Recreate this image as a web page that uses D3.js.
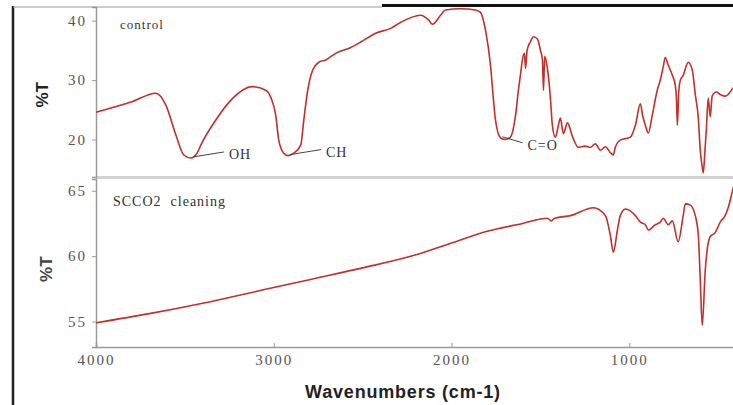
<!DOCTYPE html>
<html>
<head>
<meta charset="utf-8">
<script src="https://cdn.jsdelivr.net/npm/d3@7"></script>
<style>
  body { margin: 0; background: #fff; }
  svg { display: block; }
</style>
</head>
<body>
<main></main>
<script>
// control spectrum (wavenumber, %T)
const controlWn = [4000, 3803, 3663, 3607, 3551, 3506, 3466, 3430, 3410, 3326, 3242, 3120, 3045, 3017,
  2989, 2972, 2944, 2920, 2888, 2848, 2831, 2809, 2781, 2747, 2708, 2652, 2567, 2511, 2427, 2343,
  2287, 2174, 2129, 2107, 2062, 2034, 1949, 1865, 1837, 1809, 1781, 1764, 1753, 1725, 1697, 1669,
  1640, 1624, 1612, 1601, 1590, 1584, 1575, 1556, 1539, 1517, 1500, 1489, 1483, 1476, 1461, 1444,
  1433, 1416, 1399, 1388, 1371, 1348, 1320, 1287, 1250, 1219, 1191, 1163, 1135, 1107, 1090, 1079,
  1051, 994, 966, 938, 925, 910, 893, 871, 843, 826, 809, 798, 781, 758, 742, 735, 730, 722, 713,
  697, 669, 646, 629, 612, 601, 590, 584, 575, 567, 556, 545, 534, 511, 489, 461, 433, 416, 400];
const controlT = [24.6, 26.3, 27.8, 25.8, 20.8, 17.4, 16.9, 17.8, 19.1, 23.3, 26.6, 28.9, 28.3, 27.1,
  24.1, 19.9, 17.7, 17.3, 17.7, 19.1, 23.3, 28.3, 31.7, 33.0, 33.4, 34.5, 35.5, 36.4, 37.9, 38.7,
  39.7, 40.9, 40.1, 39.4, 40.9, 41.8, 42.0, 41.8, 41.4, 38.4, 32.5, 26.6, 23.3, 20.3, 20.0, 20.4,
  24.1, 28.3, 31.0, 33.5, 34.5, 32.0, 35.0, 36.5, 37.3, 36.9, 35.0, 33.5, 28.3, 34.0, 32.0, 27.0,
  22.4, 20.4, 22.4, 23.6, 21.0, 22.8, 20.5, 18.7, 18.9, 18.7, 19.3, 18.2, 18.8, 17.8, 17.4, 18.7,
  19.9, 20.4, 22.4, 26.0, 24.0, 22.4, 21.1, 24.1, 28.3, 30.0, 32.3, 33.8, 32.5, 30.8, 29.2, 27.0, 22.4, 28.0, 30.0,
  30.8, 33.0, 31.7, 27.6, 23.6, 18.2, 15.4, 14.4, 18.0, 21.6, 27.0, 23.8, 27.3, 28.0, 27.6, 27.3, 28.0, 28.7, 28.9];

// SCCO2 cleaning spectrum (wavenumber, %T)
const scco2Wn = [4000, 3700, 3400, 3100, 2800, 2500, 2200, 2000, 1800, 1600, 1461, 1440, 1420, 1331,
  1202, 1135, 1107, 1090, 1067, 1051, 1022, 966, 938, 910, 893, 854, 826, 809, 781, 758, 725, 697,
  685, 657, 629, 612, 601, 590, 573, 562, 545, 517, 489, 461, 444, 416, 400];
const scco2T = [54.9, 55.6, 56.4, 57.3, 58.2, 59.1, 60.1, 61.0, 61.9, 62.5, 62.9, 62.7, 62.9, 63.1,
  63.7, 63.1, 61.6, 60.3, 62.0, 63.1, 63.6, 63.1, 62.6, 62.4, 62.0, 62.4, 62.6, 62.9, 62.4, 62.7, 61.1, 63.1,
  64.0, 63.9, 63.1, 61.6, 58.2, 54.7, 58.9, 60.5, 61.5, 61.8, 62.6, 63.1, 63.7, 65.2, 66.0];

const xTicks = [4000, 3000, 2000, 1000];
const controlTicks = [20, 30, 40];
const scco2Ticks = [55, 60, 65];

// band labels on the control curve
const bandLabels = ["OH", "CH", "C=O"];
const bandWn = [3466, 2920, 1725];
const bandT = [16.9, 17.3, 20.3];

const width = 733;
const height = 405;
const lineColor = "#c3302a";
const tickFont = "'Liberation Serif', 'DejaVu Serif', serif";

const svg = d3.select("main").append("svg").attr("width", width).attr("height", height);

const xScale = d3.scaleLinear().domain([4000, 400]).range([96, 736]);
const yTop = d3.scaleLinear().domain([13.7, 42.3]).range([177, 7]);
const yBottom = d3.scaleLinear().domain([53.05, 65.9]).range([347, 179]);

// frame
svg.append("line").attr("x1", 13).attr("x2", 13).attr("y1", 6).attr("y2", height)
  .attr("stroke", "#222").attr("stroke-width", 2.5);
svg.append("line").attr("x1", 13).attr("x2", 382).attr("y1", 7).attr("y2", 7)
  .attr("stroke", "#999").attr("stroke-width", 1);
svg.append("line").attr("x1", 382).attr("x2", width).attr("y1", 5.5).attr("y2", 5.5)
  .attr("stroke", "#111").attr("stroke-width", 3);

// panel separator
svg.append("line").attr("x1", xScale(4000)).attr("x2", width).attr("y1", 177.5).attr("y2", 177.5)
  .attr("stroke", "#d2d2d2").attr("stroke-width", 3);

const styleAxis = (g) => {
  g.select(".domain").attr("stroke", "#9a9a9a").attr("stroke-width", 1.5);
  g.selectAll(".tick line").attr("stroke", "#9a9a9a");
  g.selectAll(".tick text")
    .attr("fill", "#555")
    .style("font-family", tickFont)
    .style("font-size", "15px")
    .style("letter-spacing", "2px");
};

svg.append("g")
  .attr("transform", `translate(${xScale(4000)}, 0)`)
  .call(d3.axisLeft(yTop).tickValues(controlTicks).tickSizeOuter(0).tickSize(4).tickPadding(5))
  .call(styleAxis);

svg.append("g")
  .attr("transform", `translate(${xScale(4000)}, 0)`)
  .call(d3.axisLeft(yBottom).tickValues(scco2Ticks).tickSizeOuter(0).tickSize(4).tickPadding(5))
  .call(styleAxis);

svg.append("g")
  .attr("transform", `translate(0, ${yBottom.range()[0]})`)
  .call(d3.axisBottom(xScale).tickValues(xTicks).tickFormat(d3.format("d"))
    .tickSizeOuter(0).tickSize(-4).tickPadding(7))
  .call(styleAxis);

// clip each panel
const defs = svg.append("defs");
defs.append("clipPath").attr("id", "clip-top").append("rect")
  .attr("x", xScale(4000)).attr("y", yTop.range()[1])
  .attr("width", width - xScale(4000)).attr("height", yTop.range()[0] - yTop.range()[1]);
defs.append("clipPath").attr("id", "clip-bottom").append("rect")
  .attr("x", xScale(4000)).attr("y", yBottom.range()[1])
  .attr("width", width - xScale(4000)).attr("height", yBottom.range()[0] - yBottom.range()[1]);

const controlLine = d3.line()
  .x((d, i) => xScale(controlWn[i]))
  .y((d) => yTop(d))
  .curve(d3.curveMonotoneX);
const scco2Line = d3.line()
  .x((d, i) => xScale(scco2Wn[i]))
  .y((d) => yBottom(d))
  .curve(d3.curveMonotoneX);

svg.append("path")
  .datum(controlT)
  .attr("clip-path", "url(#clip-top)")
  .attr("fill", "none")
  .attr("stroke", lineColor)
  .attr("stroke-width", 1.6)
  .attr("stroke-linejoin", "round")
  .attr("d", controlLine);

svg.append("path")
  .datum(scco2T)
  .attr("clip-path", "url(#clip-bottom)")
  .attr("fill", "none")
  .attr("stroke", lineColor)
  .attr("stroke-width", 1.6)
  .attr("stroke-linejoin", "round")
  .attr("d", scco2Line);

// panel titles
svg.append("text")
  .attr("x", 120).attr("y", 29)
  .text("control")
  .style("font-family", tickFont).style("font-size", "13px")
  .style("letter-spacing", "1px").attr("fill", "#333");
svg.append("text")
  .attr("x", 113).attr("y", 206)
  .text("SCCO2  cleaning")
  .attr("xml:space", "preserve")
  .style("white-space", "pre")
  .style("font-family", tickFont).style("font-size", "14px")
  .style("letter-spacing", "1px").attr("fill", "#333");

// band annotations
const bands = svg.append("g");
bandLabels.forEach((label, i) => {
  const px = xScale(bandWn[i]);
  const py = yTop(bandT[i]);
  const dx = i === 2 ? 22 : 33;
  const dy = i === 2 ? 5 : -6;
  bands.append("line")
    .attr("x1", px + 2).attr("y1", py - 1)
    .attr("x2", px + dx).attr("y2", py + dy)
    .attr("stroke", "#444").attr("stroke-width", 1);
  bands.append("text")
    .attr("x", px + dx + 5).attr("y", py + dy + 7)
    .text(label)
    .style("font-family", tickFont).style("font-size", "14px")
    .style("letter-spacing", "1px").attr("fill", "#333");
});

// axis titles
svg.append("text")
  .attr("transform", `translate(48, ${(yTop(30) + yTop(20)) / 2 - 15}) rotate(-90)`)
  .attr("text-anchor", "middle")
  .text("%T")
  .style("font-family", "'Liberation Sans', Arial, sans-serif")
  .style("font-weight", "bold").style("font-size", "17px").attr("fill", "#222");
svg.append("text")
  .attr("transform", `translate(52, ${yBottom(59)}) rotate(-90)`)
  .attr("text-anchor", "middle")
  .text("%T")
  .style("font-family", "'Liberation Sans', Arial, sans-serif")
  .style("font-weight", "bold").style("font-size", "17px").attr("fill", "#444");

svg.append("text")
  .attr("x", 403).attr("y", 398)
  .attr("text-anchor", "middle")
  .text("Wavenumbers (cm-1)")
  .style("font-family", "'Liberation Sans', Arial, sans-serif")
  .style("font-weight", "bold").style("font-size", "18px")
  .style("letter-spacing", "0.8px").attr("fill", "#222");
</script>
</body>
</html>
